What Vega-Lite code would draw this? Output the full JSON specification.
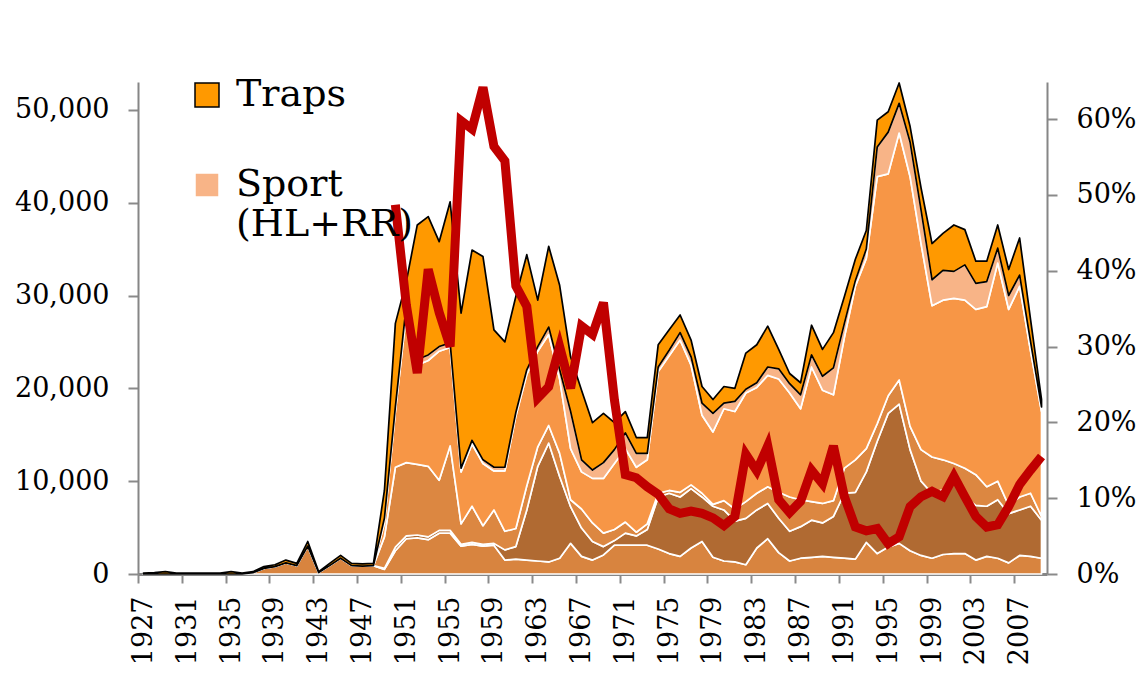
{
  "$schema": "https://vega.github.io/schema/vega-lite/v6.json",
  "autosize": {"type": "none"},
  "width": 909,
  "height": 492,
  "padding": {"left": 138, "top": 82, "right": 89, "bottom": 119},
  "background": "white",
  "config": {
    "view": {"stroke": null},
    "axis": {"labelFont": "DejaVu Serif", "labelFontSize": 27, "labelColor": "#000000", "domainColor": "#868686", "grid": false, "domainWidth": 2}
  },
  "data": {"values": [
    {"yr":1927,"a":0,"b":0,"c":0,"d":0,"e":0,"f":100},
    {"yr":1928,"a":0,"b":0,"c":0,"d":0,"e":0,"f":150},
    {"yr":1929,"a":0,"b":0,"c":0,"d":0,"e":0,"f":250},
    {"yr":1930,"a":0,"b":0,"c":0,"d":0,"e":0,"f":100},
    {"yr":1931,"a":0,"b":0,"c":0,"d":0,"e":0,"f":100},
    {"yr":1932,"a":0,"b":0,"c":0,"d":0,"e":0,"f":100},
    {"yr":1933,"a":0,"b":0,"c":0,"d":0,"e":0,"f":100},
    {"yr":1934,"a":0,"b":0,"c":0,"d":0,"e":0,"f":100},
    {"yr":1935,"a":0,"b":0,"c":0,"d":0,"e":0,"f":250},
    {"yr":1936,"a":0,"b":0,"c":0,"d":0,"e":0,"f":100},
    {"yr":1937,"a":150,"b":0,"c":0,"d":0,"e":0,"f":100},
    {"yr":1938,"a":600,"b":0,"c":0,"d":0,"e":0,"f":200},
    {"yr":1939,"a":800,"b":0,"c":0,"d":0,"e":0,"f":200},
    {"yr":1940,"a":1200,"b":0,"c":0,"d":0,"e":0,"f":300},
    {"yr":1941,"a":900,"b":0,"c":0,"d":0,"e":0,"f":250},
    {"yr":1942,"a":3000,"b":0,"c":0,"d":0,"e":0,"f":500},
    {"yr":1943,"a":150,"b":0,"c":0,"d":0,"e":0,"f":100},
    {"yr":1944,"a":900,"b":0,"c":0,"d":0,"e":0,"f":250},
    {"yr":1945,"a":1700,"b":0,"c":0,"d":0,"e":0,"f":300},
    {"yr":1946,"a":900,"b":0,"c":0,"d":0,"e":0,"f":250},
    {"yr":1947,"a":850,"b":0,"c":0,"d":0,"e":0,"f":250},
    {"yr":1948,"a":900,"b":0,"c":0,"d":0,"e":0,"f":250},
    {"yr":1949,"a":500,"b":100,"c":3400,"d":1500,"e":500,"f":3000},
    {"yr":1950,"a":2500,"b":400,"c":8600,"d":6000,"e":500,"f":9000,"p":48.7},
    {"yr":1951,"a":3800,"b":300,"c":7900,"d":16000,"e":1000,"f":2500,"p":35.5},
    {"yr":1952,"a":3900,"b":300,"c":7600,"d":10700,"e":600,"f":14500,"p":26.5},
    {"yr":1953,"a":3700,"b":300,"c":7600,"d":11400,"e":600,"f":14900,"p":40.2},
    {"yr":1954,"a":4400,"b":300,"c":5400,"d":13900,"e":500,"f":11300,"p":34.5},
    {"yr":1955,"a":4400,"b":300,"c":9100,"d":10600,"e":500,"f":15200,"p":30.0},
    {"yr":1956,"a":3000,"b":200,"c":2200,"d":5600,"e":400,"f":16700,"p":59.8},
    {"yr":1957,"a":3200,"b":200,"c":3900,"d":6700,"e":400,"f":20500,"p":58.7},
    {"yr":1958,"a":3000,"b":200,"c":2000,"d":6700,"e":400,"f":21900,"p":64.2},
    {"yr":1959,"a":3100,"b":200,"c":3600,"d":4200,"e":400,"f":14800,"p":56.4},
    {"yr":1960,"a":1500,"b":1100,"c":2000,"d":6500,"e":400,"f":13500,"p":54.5},
    {"yr":1961,"a":1600,"b":1350,"c":1950,"d":12100,"e":400,"f":12500,"p":38.0},
    {"yr":1962,"a":1500,"b":5400,"c":2600,"d":12000,"e":500,"f":12400,"p":35.3},
    {"yr":1963,"a":1400,"b":10200,"c":2100,"d":10300,"e":500,"f":5000,"p":23.2},
    {"yr":1964,"a":1300,"b":12800,"c":1900,"d":9800,"e":800,"f":8700,"p":24.7},
    {"yr":1965,"a":1700,"b":8800,"c":2500,"d":8000,"e":1000,"f":9100,"p":30.0},
    {"yr":1966,"a":3300,"b":3950,"c":750,"d":5500,"e":4000,"f":5900,"p":24.5},
    {"yr":1967,"a":1900,"b":3050,"c":2050,"d":4000,"e":1300,"f":7500,"p":32.7},
    {"yr":1968,"a":1500,"b":2000,"c":2000,"d":4800,"e":900,"f":5100,"p":31.6},
    {"yr":1969,"a":2050,"b":900,"c":1450,"d":5900,"e":1700,"f":5300,"p":35.8},
    {"yr":1970,"a":3100,"b":500,"c":1200,"d":7100,"e":1500,"f":2900,"p":23.0},
    {"yr":1971,"a":3100,"b":1300,"c":1200,"d":7900,"e":1700,"f":2300,"p":13.1},
    {"yr":1972,"a":3100,"b":1000,"c":400,"d":7000,"e":1500,"f":1700,"p":12.7},
    {"yr":1973,"a":3100,"b":1700,"c":600,"d":6900,"e":700,"f":1700,"p":11.5},
    {"yr":1974,"a":2700,"b":5600,"c":400,"d":13100,"e":500,"f":2400,"p":10.5},
    {"yr":1975,"a":2200,"b":6500,"c":300,"d":14500,"e":600,"f":2200,"p":8.6},
    {"yr":1976,"a":1900,"b":6400,"c":500,"d":16400,"e":800,"f":1900,"p":8.0},
    {"yr":1977,"a":2800,"b":6400,"c":400,"d":12900,"e":900,"f":1800,"p":8.3},
    {"yr":1978,"a":3500,"b":4800,"c":400,"d":8400,"e":1300,"f":1800,"p":8.0},
    {"yr":1979,"a":1800,"b":5500,"c":200,"d":7800,"e":2000,"f":1500,"p":7.4},
    {"yr":1980,"a":1400,"b":5500,"c":1000,"d":9900,"e":600,"f":1800,"p":6.4},
    {"yr":1981,"a":1300,"b":4400,"c":1300,"d":10500,"e":1100,"f":1400,"p":7.6},
    {"yr":1982,"a":1000,"b":5000,"c":1800,"d":11700,"e":400,"f":3900,"p":15.8},
    {"yr":1983,"a":2800,"b":4100,"c":1800,"d":11400,"e":500,"f":4100,"p":13.6},
    {"yr":1984,"a":3800,"b":3800,"c":1800,"d":12000,"e":900,"f":4400,"p":16.9},
    {"yr":1985,"a":2300,"b":3700,"c":2800,"d":12200,"e":1100,"f":2100,"p":9.8},
    {"yr":1986,"a":1400,"b":3200,"c":3700,"d":11200,"e":1000,"f":1100,"p":8.1},
    {"yr":1987,"a":1700,"b":3400,"c":2900,"d":9800,"e":1500,"f":1300,"p":9.6},
    {"yr":1988,"a":1800,"b":4000,"c":2000,"d":14500,"e":1300,"f":3200,"p":13.7},
    {"yr":1989,"a":1900,"b":3600,"c":2100,"d":12200,"e":1500,"f":2900,"p":11.9},
    {"yr":1990,"a":1800,"b":4400,"c":1700,"d":11400,"e":2900,"f":3800,"p":16.9},
    {"yr":1991,"a":1700,"b":7000,"c":2700,"d":14100,"e":1500,"f":2900,"p":10.2},
    {"yr":1992,"a":1600,"b":7200,"c":3500,"d":18700,"e":600,"f":2300,"p":6.2},
    {"yr":1993,"a":3400,"b":7600,"c":2500,"d":20500,"e":1000,"f":2000,"p":5.7},
    {"yr":1994,"a":2200,"b":12100,"c":1900,"d":26600,"e":3200,"f":2900,"p":6.0},
    {"yr":1995,"a":2900,"b":14400,"c":1900,"d":23900,"e":4500,"f":2200,"p":4.0},
    {"yr":1996,"a":3300,"b":15000,"c":2600,"d":26600,"e":3200,"f":2200,"p":4.9},
    {"yr":1997,"a":2500,"b":10900,"c":2500,"d":26900,"e":3700,"f":1700,"p":8.9},
    {"yr":1998,"a":2000,"b":8000,"c":3400,"d":22200,"e":3600,"f":2400,"p":10.2},
    {"yr":1999,"a":1700,"b":7000,"c":3900,"d":16300,"e":2800,"f":3900,"p":10.9},
    {"yr":2000,"a":2100,"b":7000,"c":3200,"d":17200,"e":3200,"f":4000,"p":10.2},
    {"yr":2001,"a":2200,"b":7700,"c":2000,"d":17800,"e":2900,"f":5000,"p":12.9},
    {"yr":2002,"a":2200,"b":6100,"c":3100,"d":18100,"e":3800,"f":3800,"p":10.2},
    {"yr":2003,"a":1500,"b":5900,"c":3300,"d":17800,"e":2800,"f":2400,"p":7.6},
    {"yr":2004,"a":1900,"b":5400,"c":2100,"d":19400,"e":2700,"f":2200,"p":6.2},
    {"yr":2005,"a":1700,"b":6300,"c":2000,"d":23500,"e":1600,"f":2500,"p":6.5},
    {"yr":2006,"a":1200,"b":5300,"c":900,"d":21100,"e":1500,"f":2800,"p":8.9},
    {"yr":2007,"a":2000,"b":4900,"c":1400,"d":22700,"e":1200,"f":4000,"p":11.8},
    {"yr":2008,"a":1900,"b":5400,"c":1400,"d":15300,"e":1000,"f":2400,"p":13.7},
    {"yr":2009,"a":1700,"b":4100,"c":400,"d":11300,"e":500,"f":800,"p":15.5}
  ]},
  "layer": [
    {
      "transform": [{"fold": ["a","b","c","d","e","f"], "as": ["key","v"]}],
      "mark": {"type": "area", "interpolate": "linear", "opacity": 1, "fillOpacity": 1, "strokeWidth": 1.7, "strokeJoin": "round"},
      "encoding": {
        "x": {"field": "yr", "type": "quantitative",
          "scale": {"domain": [1926.5, 2009.5], "nice": false, "zero": false},
          "axis": {"title": null, "orient": "bottom", "ticks": true,
            "values": [1927,1928,1929,1930,1931,1932,1933,1934,1935,1936,1937,1938,1939,1940,1941,1942,1943,1944,1945,1946,1947,1948,1949,1950,1951,1952,1953,1954,1955,1956,1957,1958,1959,1960,1961,1962,1963,1964,1965,1966,1967,1968,1969,1970,1971,1972,1973,1974,1975,1976,1977,1978,1979,1980,1981,1982,1983,1984,1985,1986,1987,1988,1989,1990,1991,1992,1993,1994,1995,1996,1997,1998,1999,2000,2001,2002,2003,2004,2005,2006,2007,2008,2009],
            "labelExpr": "(datum.value - 1927) % 4 == 0 ? '' + datum.value : ''",
            "labelAngle": 270, "labelOverlap": false, "labelBound": false, "labelFlush": false,
            "tickOffset": -5.476, "labelOffset": 5.476, "tickSize": 9, "tickWidth": 2, "tickColor": "#8a8a8a", "tickOpacity": 1, "labelPadding": 13, "domainWidth": 3}},
        "y": {"field": "v", "type": "quantitative", "stack": "zero",
          "scale": {"domain": [0, 53000], "nice": false},
          "axis": {"title": null, "orient": "left", "ticks": true, "values": [0,10000,20000,30000,40000,50000], "labelExpr": "format(datum.value, ',')", "tickSize": 10, "tickWidth": 2, "tickColor": "#8a8a8a", "tickOpacity": 1, "labelPadding": 19}},
        "color": {"field": "key", "type": "nominal",
          "scale": {"domain": ["a","b","c","d","e","f"], "range": ["#D8843F","#B06A32","#DC8741","#F79646","#F8B487","#FF9900"]},
          "legend": {"orient": "none", "legendX": 50, "legendY": -6, "title": null, "padding": 0, "values": ["f","e"], "symbolType": "square", "symbolSize": 576, "symbolStrokeWidth": 1.5, "symbolOpacity": 1, "labelFont": "DejaVu Serif", "labelFontSize": 38, "labelColor": "#000000", "labelExpr": "datum.value == 'f' ? 'Traps' : ['Sport', '(HL+RR)']", "rowPadding": 52, "labelOffset": 10, "labelLimit": 400}},
        "stroke": {"field": "key", "type": "nominal",
          "scale": {"domain": ["a","b","c","d","e","f"], "range": ["#FFFFFF","#FFFFFF","#FFFFFF","#FFFFFF","#FFFFFF","#000000"]},
          "legend": {"orient": "none", "legendX": 50, "legendY": -6, "title": null, "padding": 0, "values": ["f","e"], "symbolType": "square", "symbolSize": 576, "symbolStrokeWidth": 1.5, "symbolOpacity": 1, "labelFont": "DejaVu Serif", "labelFontSize": 38, "labelColor": "#000000", "labelExpr": "datum.value == 'f' ? 'Traps' : ['Sport', '(HL+RR)']", "rowPadding": 52, "labelOffset": 10, "labelLimit": 400}},
        "order": {"field": "key", "sort": "ascending"}
      }
    },
    {
      "mark": {"type": "line", "color": "#C00000", "strokeWidth": 9, "strokeJoin": "miter", "strokeMiterLimit": 4},
      "encoding": {
        "x": {"field": "yr", "type": "quantitative"},
        "y": {"field": "p", "type": "quantitative",
          "scale": {"domain": [0, 64.9], "nice": false},
          "axis": {"title": null, "orient": "right", "ticks": true, "values": [0,10,20,30,40,50,60], "labelExpr": "datum.value + '%'", "tickSize": 10, "tickWidth": 2, "tickColor": "#8a8a8a", "tickOpacity": 1, "labelPadding": 19}}
      }
    }
  ],
  "resolve": {"scale": {"y": "independent"}}
}
